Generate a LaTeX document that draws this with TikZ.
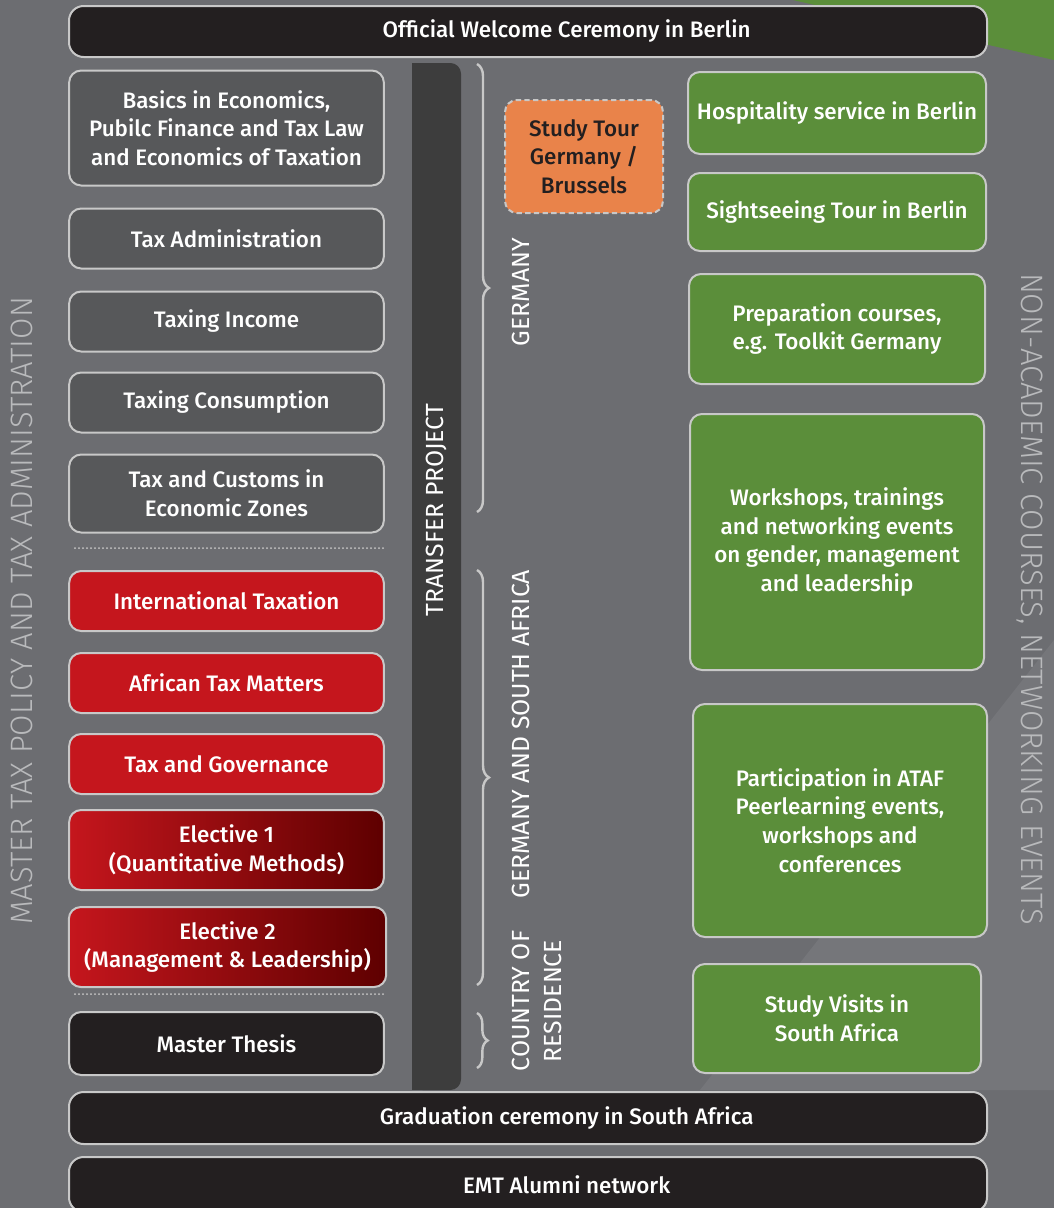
\documentclass[tikz,border=0pt]{standalone}
\usepackage{fontspec}
\setmainfont{Fira Sans}[UprightFont=* Medium]
\newfontfamily\lightfont{Fira Sans}[UprightFont=* Light]
\newfontfamily\regfont{Fira Sans}
\usepackage{tikz}
\usetikzlibrary{positioning,decorations.pathreplacing,shadings}
\definecolor{bggray}{RGB}{108,109,113}
\definecolor{bglight}{RGB}{117,118,122}
\definecolor{boxgray}{RGB}{87,88,90}
\definecolor{edgegray}{RGB}{200,200,200}
\definecolor{nearblack}{RGB}{35,31,32}
\definecolor{mred}{RGB}{197,22,29}
\definecolor{darkred}{RGB}{94,0,0}
\definecolor{mgreen}{RGB}{91,142,58}
\definecolor{morange}{RGB}{233,131,74}
\definecolor{barfill}{RGB}{61,61,61}
\definecolor{labelgray}{RGB}{185,186,188}

\begin{document}
\begin{tikzpicture}[
  x=0.75pt, y=-0.75pt,
  font=\fontsize{16.8}{21.5}\selectfont,
  box/.style={draw=edgegray, line width=1.5pt, rounded corners=9pt, align=center,
    text=white, inner sep=2pt, minimum width=236pt},
  graybox/.style={box, fill=boxgray},
  redbox/.style={box, fill=mred},
  electbox/.style={box, left color=mred, right color=darkred},
  thesisbox/.style={box, fill=nearblack},
  greenbox/.style={box, fill=mgreen},
  bar/.style={box, fill=nearblack, minimum width=688.5pt, rounded corners=11pt},
  tourbox/.style={box, fill=morange, text=nearblack, dash pattern=on 4pt off 2.5pt},
  sepline/.style={edgegray, line width=1.5pt, line cap=round, dash pattern=on 0pt off 3pt},
  bracket/.style={edgegray, line width=1.8pt, decorate,
    decoration={brace, amplitude=9pt}},
  sidelabel/.style={labelgray, font=\lightfont\fontsize{23.2}{26}\selectfont},
  phaselabel/.style={white, align=center, font=\regfont\fontsize{18.6}{24}\selectfont}]
  % background
  \fill[bggray] (0,0) rectangle (1054,1208);
  \useasboundingbox (0,0) rectangle (1054,1208);
  \clip (0,0) rectangle (1054,1208);
  \fill[bglight] (700,1090) -- (1054,640) -- (1054,1090) -- cycle;
  \fill[mgreen] (793,0) -- (1054,0) -- (1054,60) -- cycle;

  % welcome and closing bars
  \node[bar, minimum height=38.25pt] (welcome) at (528,31.5) {\hspace*{58pt}Official Welcome Ceremony in Berlin};
  \node[bar, minimum height=39pt] (graduation) at (528,1118) {\hspace*{58pt}Graduation ceremony in South Africa};
  \node[bar, minimum height=41.25pt] (alumni) at (528,1184.5) {\hspace*{58pt}EMT Alumni network};

  % academic modules
  \node[graybox, minimum height=86.25pt] (basics) at (226.5,128)
    {Basics in Economics,\\Pubilc Finance and Tax Law\\and Economics of Taxation};
  \node[graybox, minimum height=45pt, below=15.75pt of basics] (admin) {Tax Administration};
  \node[graybox, minimum height=45pt, below=15.75pt of admin] (income) {Taxing Income};
  \node[graybox, minimum height=45pt, below=14.25pt of income] (consum) {Taxing Consumption};
  \node[graybox, minimum height=58.5pt, below=15pt of consum] (customs) {Tax and Customs in\\Economic Zones};
  \coordinate (sep1l) at (75,548);
  \coordinate (sep1r) at (384,548);
  \draw[sepline] (sep1l) -- (sep1r);

  \node[redbox, minimum height=45pt] (intl) at (226.5,601) {International Taxation};
  \node[redbox, minimum height=45pt, below=15pt of intl] (african) {African Tax Matters};
  \node[redbox, minimum height=45pt, below=14.25pt of african] (govern) {Tax and Governance};
  \node[electbox, minimum height=60pt, below=10.5pt of govern] (elect1) {Elective 1\\(Quantitative Methods)};
  \node[electbox, minimum height=60pt, minimum width=238pt, below=11.25pt of elect1, xshift=0.75pt] (elect2)
    {Elective 2\\(Management \& Leadership)};
  \coordinate (sep2l) at (75,994);
  \coordinate (sep2r) at (384,994);
  \draw[sepline] (sep2l) -- (sep2r);

  \node[thesisbox, minimum height=47.25pt] (thesis) at (226.5,1043.5) {Master Thesis};

  % transfer project
  \fill[barfill, rounded corners=8pt] (412,63) rectangle (461,1090);
  \fill[barfill] (412,63) rectangle (440,1090);
  \node[phaselabel, rotate=90] (transfer) at (437,510) {TRANSFER PROJECT};

  % phases
  \coordinate (g1) at (477,64);
  \coordinate (g2) at (477,512);
  \coordinate (gs1) at (477,570);
  \coordinate (gs2) at (477,985);
  \coordinate (cr1) at (477,1013);
  \coordinate (cr2) at (477,1068);
  \draw[bracket] (g1) -- (g2);
  \draw[bracket] (gs1) -- (gs2);
  \draw[bracket, decoration={brace, amplitude=8pt}] (cr1) -- (cr2);
  \node[phaselabel, rotate=90] (germany) at (521,292) {GERMANY};
  \node[phaselabel, rotate=90] (gersa) at (521,734) {GERMANY AND SOUTH AFRICA};
  \node[phaselabel, rotate=90] (country) at (537,1001) {COUNTRY OF\\RESIDENCE};

  \node[tourbox, minimum width=118.5pt, minimum height=84.75pt] (tour) at (584,156.5)
    {Study Tour\\Germany /\\Brussels};

  % non-academic activities
  \node[greenbox, minimum width=223.5pt, minimum height=61.5pt] (hosp) at (837,113) {Hospitality service in Berlin};
  \node[greenbox, minimum width=223.5pt, minimum height=58.5pt] (sight) at (837,212) {Sightseeing Tour in Berlin};
  \node[greenbox, minimum width=222pt, minimum height=82.5pt] (prep) at (837,329) {Preparation courses,\\e.g. Toolkit Germany};
  \node[greenbox, minimum width=220.5pt, minimum height=192pt] (workshop) at (837,542)
    {Workshops, trainings\\and networking events\\on gender, management\\and leadership};
  \node[greenbox, minimum width=220.5pt, minimum height=174.75pt] (ataf) at (840,820.5)
    {Participation in ATAF\\Peerlearning events,\\workshops and\\conferences};
  \node[greenbox, minimum width=216pt, minimum height=81.75pt] (visits) at (837,1018.5) {Study Visits in\\South Africa};

  % side titles
  \node[sidelabel, rotate=90] (master) at (22,611) {MASTER TAX POLICY AND TAX ADMINISTRATION};
  \node[sidelabel, rotate=-90] (nonacad) at (1030,599) {NON-ACADEMIC COURSES, NETWORKING EVENTS};
\end{tikzpicture}
\end{document}
